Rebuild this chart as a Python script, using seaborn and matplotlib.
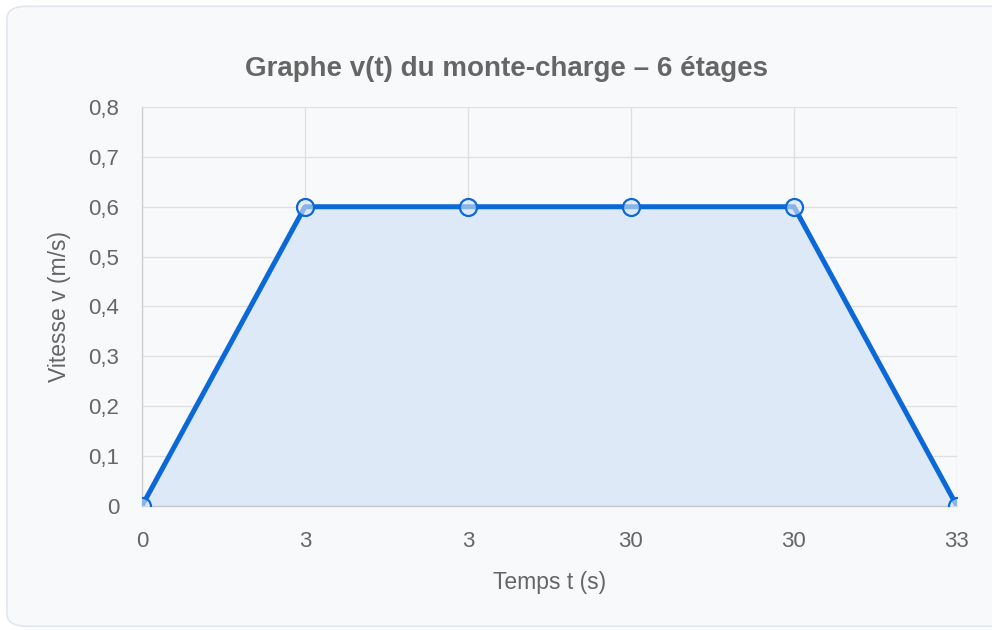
import numpy as np
import pandas as pd
import matplotlib
matplotlib.use("Agg")
import matplotlib.pyplot as plt
import seaborn as sns
from matplotlib.patches import FancyBboxPatch

# Données du graphe v(t)
temps_labels = ["0", "3", "3", "30", "30", "33"]
vitesse = [0, 0.6, 0.6, 0.6, 0.6, 0]
y_ticks = [0, 0.1, 0.2, 0.3, 0.4, 0.5, 0.6, 0.7, 0.8]

df = pd.DataFrame({"pos": np.arange(len(temps_labels)), "v": vitesse})

sns.set_theme(style="whitegrid")
plt.rcParams["font.family"] = ["Liberation Sans", "DejaVu Sans"]

bleu = "#0b68d8"
gris_txt = "#666666"
gris_grille = "#e0e0e0"

fig = plt.figure(figsize=(9.92, 6.3), dpi=100)
fig.patch.set_facecolor("white")

# Carte arrondie
carte = FancyBboxPatch((0.007, 0.006), 1.2, 0.984, boxstyle="round,pad=0,rounding_size=0.02",
                       transform=fig.transFigure, facecolor="#f8f9fb", edgecolor="#e2e6ed",
                       linewidth=1.2, zorder=-10)
fig.patches.append(carte)

ax = fig.add_axes([0.1431, 0.1968, 0.8216, 0.6334])
ax.set_facecolor("#f8f9fb")

ax.fill_between(df["pos"], df["v"], 0, color="#dde9f7", zorder=1)
sns.lineplot(data=df, x="pos", y="v", ax=ax, color=bleu, linewidth=3.6, zorder=3)
ax.scatter(df["pos"], df["v"], s=150, facecolor=(0.87, 0.91, 0.97, 0.6), edgecolor=bleu,
           linewidth=1.6, zorder=4, clip_on=True)

ax.set_xlim(0, len(temps_labels) - 1)
ax.set_ylim(0, 0.8)
ax.set_xticks(df["pos"])
ax.set_xticklabels(temps_labels)
ax.set_yticks(y_ticks)
ax.set_yticklabels([("%g" % v).replace(".", ",") for v in y_ticks])

ax.grid(True, color=gris_grille, linewidth=1)
ax.tick_params(axis="both", colors=gris_txt, labelsize=16, length=12,
               color=gris_grille, width=1)
ax.tick_params(axis="x", pad=6)
ax.tick_params(axis="y", pad=4.5)
for s in ["top", "right"]:
    ax.spines[s].set_visible(False)
ax.spines["left"].set_color("#d0d0d0")
ax.spines["bottom"].set_color("#c8c8c8")
ax.spines["left"].set_linewidth(1)
ax.spines["bottom"].set_linewidth(1)

ax.set_xlabel("Temps t (s)", color=gris_txt, fontsize=16.5)
ax.set_ylabel("Vitesse v (m/s)", color=gris_txt, fontsize=16.5)
ax.xaxis.set_label_coords(0.5, -0.163)
ax.yaxis.set_label_coords(-0.087, 0.5)
ax.set_title("Graphe v(t) du monte-charge – 6 étages", color=gris_txt, fontsize=20,
             fontweight="bold", pad=22, x=0.447)

fig.savefig("out.png", dpi=100)
